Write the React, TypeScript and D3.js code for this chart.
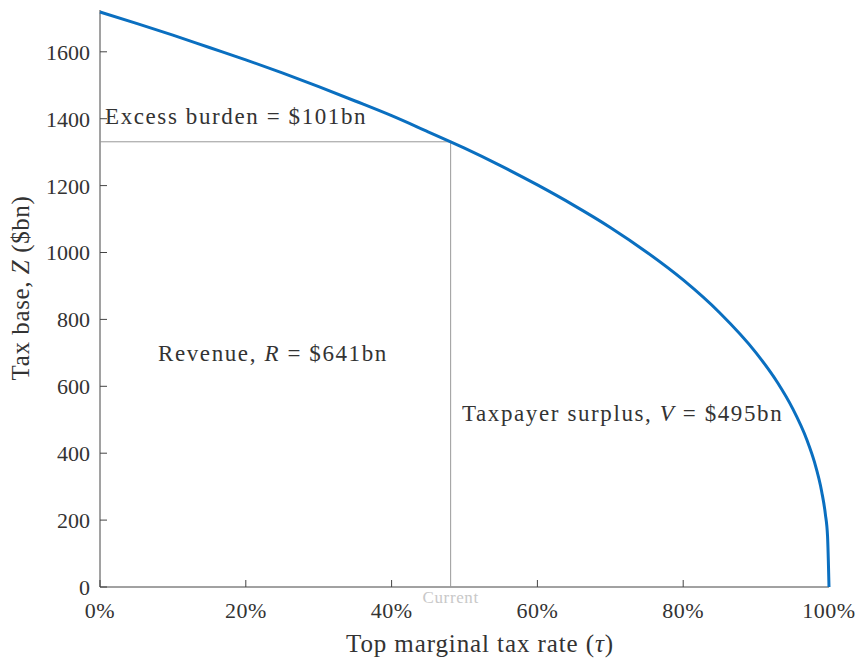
import React from "react";
import * as d3 from "d3";

const rates = [0, 0.05, 0.1, 0.15, 0.2, 0.25, 0.3, 0.35, 0.4, 0.45, 0.481, 0.5, 0.55, 0.6, 0.65, 0.7, 0.75, 0.8, 0.85, 0.9, 0.93, 0.95, 0.97, 0.98, 0.99, 0.995, 0.998, 1.0];
const taxBase = [1719, 1685, 1650, 1613, 1576, 1537, 1496, 1453, 1409, 1361, 1331, 1312, 1259, 1202, 1141, 1075, 1001, 918, 820, 700, 609, 534, 438, 374, 285, 218, 152, 0];
const currentRate = 0.481;
const currentBase = 1331;
const yTicks = [0, 200, 400, 600, 800, 1000, 1200, 1400, 1600];
const xTicks = [0, 0.2, 0.4, 0.6, 0.8, 1.0];

const W = 859, H = 661;
const FONT = "'Liberation Serif', 'DejaVu Serif', serif";

export default function App() {
  const x = d3.scaleLinear().domain([0, 1]).range([100, 829]);
  const y = d3.scaleLinear().domain([0, 1725]).range([587, 10]);
  const pts = rates.map((r, i) => [r, taxBase[i]] as [number, number]);
  const line = d3.line<[number, number]>().x(d => x(d[0])).y(d => y(d[1])).curve(d3.curveMonotoneX);
  const axisColor = "#444";
  const fmt = d3.format(".0%");
  const annot = { fontSize: 23, letterSpacing: 1.6, fill: "#333" };
  return (
    <svg width={W} height={H} style={{ position: "absolute", left: 0, top: 0, background: "#fff" }} fontFamily={FONT}>
      {/* axes */}
      <line x1={x(0)} x2={x(0)} y1={y(0)} y2={y(1725)} stroke={axisColor} strokeWidth={1} />
      <line x1={x(0)} x2={x(1)} y1={y(0)} y2={y(0)} stroke={axisColor} strokeWidth={1} />
      {yTicks.map(t => (
        <g key={"y" + t}>
          <line x1={x(0)} x2={x(0) + 7} y1={y(t)} y2={y(t)} stroke={axisColor} />
          <text x={x(0) - 10} y={y(t)} dy="0.36em" textAnchor="end" fontSize={22} fill="#333">{t}</text>
        </g>
      ))}
      {xTicks.map(t => (
        <g key={"x" + t}>
          <line x1={x(t)} x2={x(t)} y1={y(0)} y2={y(0) - 7} stroke={axisColor} />
          <text x={x(t)} y={618} textAnchor="middle" fontSize={22} letterSpacing={0.5} fill="#333">{fmt(t)}</text>
        </g>
      ))}
      {/* current rate lines */}
      <line x1={x(0)} x2={x(currentRate)} y1={y(currentBase)} y2={y(currentBase)} stroke="#999" strokeWidth={1} />
      <line x1={x(currentRate)} x2={x(currentRate)} y1={y(currentBase)} y2={y(0)} stroke="#999" strokeWidth={1} />
      <text x={x(currentRate)} y={603} textAnchor="middle" fontSize={17} letterSpacing={0.6} fill="#c8c8c8">Current</text>
      {/* curve */}
      <path d={line(pts) || ""} fill="none" stroke="#0a6fc0" strokeWidth={3} />
      {/* annotations */}
      <text x={105} y={124} {...annot}>Excess burden = $101bn</text>
      <text x={158} y={361} {...annot}>Revenue, <tspan fontStyle="italic">R</tspan> = $641bn</text>
      <text x={462} y={421} {...annot}>Taxpayer surplus, <tspan fontStyle="italic">V</tspan> = $495bn</text>
      {/* axis titles */}
      <text x={480} y={652} textAnchor="middle" fontSize={25} letterSpacing={0.9} fill="#333">Top marginal tax rate (<tspan fontStyle="italic">τ</tspan>)</text>
      <text transform="translate(29,288) rotate(-90)" textAnchor="middle" fontSize={25} letterSpacing={0.6} fill="#333">Tax base, <tspan fontStyle="italic">Z</tspan> ($bn)</text>
    </svg>
  );
}
